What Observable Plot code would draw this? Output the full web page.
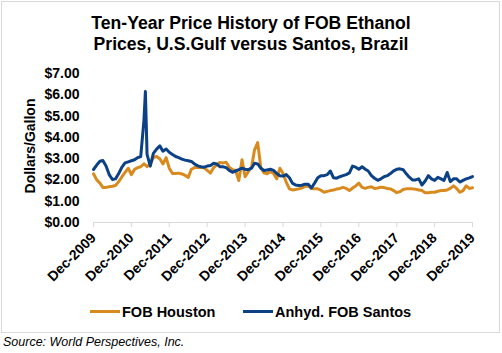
<!DOCTYPE html>
<html><head><meta charset="utf-8">
<script src="https://cdn.jsdelivr.net/npm/d3@7"></script>
<script src="https://cdn.jsdelivr.net/npm/@observablehq/plot@0.6"></script>
<style>
body{margin:0;background:#fff;font-family:"Liberation Sans",Arial,sans-serif;color:#000;}
#wrap{position:relative;width:502px;height:353px;overflow:hidden;background:#fff;}
#frame{position:absolute;left:1px;top:1px;width:497px;height:330px;border:1px solid #d9d9d9;}
#chart{position:absolute;left:0;top:0;}
#title{position:absolute;left:0;width:502px;top:13px;text-align:center;font-weight:bold;font-size:17.6px;line-height:20.5px;}
#ylab{position:absolute;left:30px;top:146px;transform:translate(-50%,-50%) rotate(-90deg);font-weight:bold;font-size:14px;white-space:nowrap;}
.sw{position:absolute;height:3px;width:30px;top:310px;}
.lt{position:absolute;top:303.7px;font-weight:bold;font-size:14.5px;line-height:17px;white-space:nowrap;}
#source{position:absolute;left:3px;top:335px;font-style:italic;font-size:12.5px;line-height:15px;white-space:nowrap;}
</style></head>
<body>
<div id="wrap">
  <div id="frame"></div>
  <div id="chart"></div>
  <div id="title">Ten-Year Price History of FOB Ethanol<br>Prices, U.S.Gulf versus Santos, Brazil</div>
  <div id="ylab">Dollars/Gallon</div>
  <div class="sw" id="sw1" style="left:90px"></div><div class="lt" style="left:122px">FOB Houston</div>
  <div class="sw" id="sw2" style="left:243px"></div><div class="lt" style="left:275px">Anhyd. FOB Santos</div>
  <div id="source">Source: World Perspectives, Inc.</div>
</div>
<script>
const seriesNames = ["FOB Houston", "Anhyd. FOB Santos"];
const colors = ["#d98a1e", "#0c4285"];

const dates = [
  "2009-12",
  "2010-01","2010-02","2010-03","2010-04","2010-05","2010-06","2010-07","2010-08","2010-09","2010-10","2010-11","2010-12",
  "2011-01","2011-02","2011-03","2011-04","2011-04-15","2011-05","2011-06","2011-07","2011-08","2011-09","2011-10","2011-11","2011-12",
  "2012-01","2012-02","2012-03","2012-04","2012-05","2012-06","2012-07","2012-08","2012-09","2012-10","2012-11","2012-12",
  "2013-01","2013-02","2013-03","2013-04","2013-05","2013-06","2013-07","2013-08","2013-09","2013-10","2013-11","2013-12",
  "2014-01","2014-02","2014-03","2014-04","2014-05","2014-06","2014-07","2014-08","2014-09","2014-10","2014-11","2014-12",
  "2015-01","2015-02","2015-03","2015-04","2015-05","2015-06","2015-07","2015-08","2015-09","2015-10","2015-11","2015-12",
  "2016-01","2016-02","2016-03","2016-04","2016-05","2016-06","2016-07","2016-08","2016-09","2016-10","2016-11","2016-12",
  "2017-01","2017-02","2017-03","2017-04","2017-05","2017-06","2017-07","2017-08","2017-09","2017-10","2017-11","2017-12",
  "2018-01","2018-02","2018-03","2018-04","2018-05","2018-06","2018-07","2018-08","2018-09","2018-10","2018-11","2018-12",
  "2019-01","2019-02","2019-03","2019-04","2019-05","2019-06","2019-07","2019-08","2019-09","2019-10","2019-11","2019-12"
];

const houston = [
  2.29,
  2.00,1.85,1.65,1.65,1.68,1.70,1.74,1.92,2.15,2.35,2.55,2.25,
  2.50,2.58,2.62,2.76,2.70,2.62,2.75,3.05,3.10,3.00,2.75,3.05,2.55,
  2.30,2.30,2.32,2.28,2.22,2.12,2.50,2.58,2.60,2.58,2.57,2.45,
  2.32,2.58,2.70,2.82,2.80,2.83,2.60,2.48,2.44,1.97,2.95,2.15,
  2.40,2.60,3.40,3.75,2.60,2.33,2.29,2.40,2.30,2.05,2.55,2.30,
  1.90,1.58,1.53,1.55,1.58,1.62,1.70,1.72,1.60,1.58,1.58,1.52,
  1.42,1.46,1.50,1.53,1.57,1.60,1.65,1.60,1.50,1.62,1.72,1.85,
  1.65,1.60,1.65,1.68,1.60,1.62,1.66,1.64,1.60,1.58,1.50,1.40,
  1.45,1.55,1.58,1.58,1.58,1.56,1.53,1.50,1.40,1.40,1.42,1.42,
  1.47,1.50,1.50,1.53,1.60,1.72,1.60,1.42,1.50,1.72,1.60,1.63
];

const santos = [
  2.49,
  2.70,2.88,2.91,2.65,2.25,2.02,2.05,2.30,2.60,2.80,2.85,2.90,
  2.95,3.05,3.10,4.80,6.15,3.20,2.65,3.25,3.45,3.60,3.35,3.45,3.30,
  3.20,3.10,3.05,2.98,2.93,2.90,2.87,2.75,2.66,2.62,2.60,2.65,
  2.68,2.78,2.75,2.62,2.62,2.58,2.45,2.36,2.42,2.48,2.55,2.50,
  2.48,2.55,2.78,2.75,2.55,2.44,2.47,2.50,2.45,2.30,2.20,2.18,
  2.25,2.10,1.85,1.76,1.74,1.75,1.80,1.80,1.62,1.85,2.10,2.20,
  2.20,2.25,2.42,2.10,2.08,2.15,2.20,2.25,2.33,2.65,2.60,2.50,
  2.62,2.50,2.42,2.20,2.08,1.98,2.05,2.15,2.20,2.30,2.43,2.50,
  2.52,2.48,2.30,2.13,2.00,2.00,2.05,1.76,1.95,2.20,2.05,1.98,
  2.12,2.05,1.97,2.35,1.92,2.05,2.05,1.90,1.98,2.05,2.10,2.16
];

const yTicks = [0,1,2,3,4,5,6,7];
const xTickLabels = ["Dec-2009","Dec-2010","Dec-2011","Dec-2012","Dec-2013","Dec-2014","Dec-2015","Dec-2016","Dec-2017","Dec-2018","Dec-2019"];

const parseTick = d3.utcParse("%b-%Y");
const xTicks = xTickLabels.map(parseTick);
const rows = dates.map((d, i) => ({date: new Date(d), houston: houston[i], santos: santos[i]}));

document.getElementById("sw1").style.background = colors[0];
document.getElementById("sw2").style.background = colors[1];

const chart = Plot.plot({
  width: 502, height: 300,
  marginLeft: 93, marginRight: 30, marginTop: 73, marginBottom: 78,
  style: {background: "transparent", fontFamily: "'Liberation Sans', Arial, sans-serif", fontSize: "14px", fontWeight: "bold", color: "#000"},
  x: {type: "utc", domain: [xTicks[0], xTicks[xTicks.length - 1]]},
  y: {domain: [0, 7]},
  marks: [
    Plot.ruleY([0], {stroke: "#d9d9d9", strokeWidth: 1}),
    Plot.axisY({ticks: yTicks, tickFormat: d => "$" + d.toFixed(2), tickSize: 0, tickPadding: 14, label: null}),
    Plot.axisX({ticks: xTicks, tickFormat: d3.utcFormat("%b-%Y"), tickRotate: -45, tickSize: 5, tickPadding: 8, stroke: "#d9d9d9", fill: "#000", label: null}),
    Plot.line(rows, {x: "date", y: "houston", stroke: colors[0], strokeWidth: 3}),
    Plot.line(rows, {x: "date", y: "santos", stroke: colors[1], strokeWidth: 3})
  ]
});
document.getElementById("chart").appendChild(chart);
</script>
</body></html>
